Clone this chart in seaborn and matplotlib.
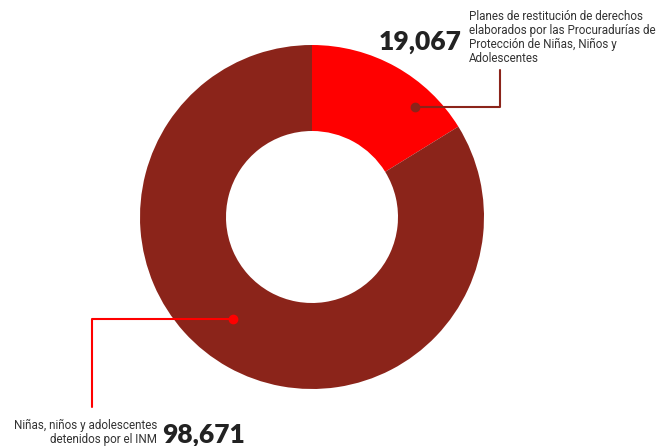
import matplotlib
matplotlib.use("Agg")
import matplotlib.pyplot as plt
import seaborn as sns

# data
labels = ["Planes de restitución de derechos\nelaborados por las Procuradurías de\nProtección de Niñas, Niños y\nAdolescentes",
          "Niñas, niños y adolescentes\ndetenidos por el INM"]
values = [19067, 98671]
colors = ["#FF0000", "#8B241A"]

sns.set_theme(style="white")
plt.rcParams['font.family'] = ['Roboto', 'DejaVu Sans']

W, H = 657, 446
fig = plt.figure(figsize=(W / 100, H / 100), dpi=100)
ax = fig.add_axes([0, 0, 1, 1])

cx, cy, R = 312, H - 217, 172
ax.pie(values, colors=colors, startangle=90, counterclock=False,
       center=(cx, cy), radius=R, frame=True,
       wedgeprops=dict(width=R * 0.5, edgecolor='none'))
ax.set_xlim(0, W)
ax.set_ylim(0, H)
ax.set_aspect('equal')
ax.axis('off')

# top-right callout
ax.plot([415, 500, 500], [H - 107, H - 107, H - 70], color="#8B241A", lw=1.5)
ax.plot(415, H - 107, 'o', color="#8B241A", ms=6)
ax.text(462, H - 50, f"{values[0]:,}", ha='right', va='baseline',
        fontsize=19, fontweight='heavy', family=['Lato', 'DejaVu Sans'], color="#222222")
ax.text(469, H - 10, labels[0], ha='left', va='top', fontsize=8.4,
        color="#333333", linespacing=1.1)

# bottom-left callout
ax.plot([233, 92, 92], [H - 319, H - 319, H - 407], color="#FF0000", lw=1.5)
ax.plot(233, H - 319, 'o', color="#FF0000", ms=6)
ax.text(162, H - 443, f"{values[1]:,}", ha='left', va='baseline',
        fontsize=19, fontweight='heavy', family=['Lato', 'DejaVu Sans'], color="#222222")
ax.text(157, H - 443, labels[1], ha='right', va='baseline', fontsize=8.4,
        color="#333333", linespacing=1.1)

fig.savefig("out.png", dpi=100)
